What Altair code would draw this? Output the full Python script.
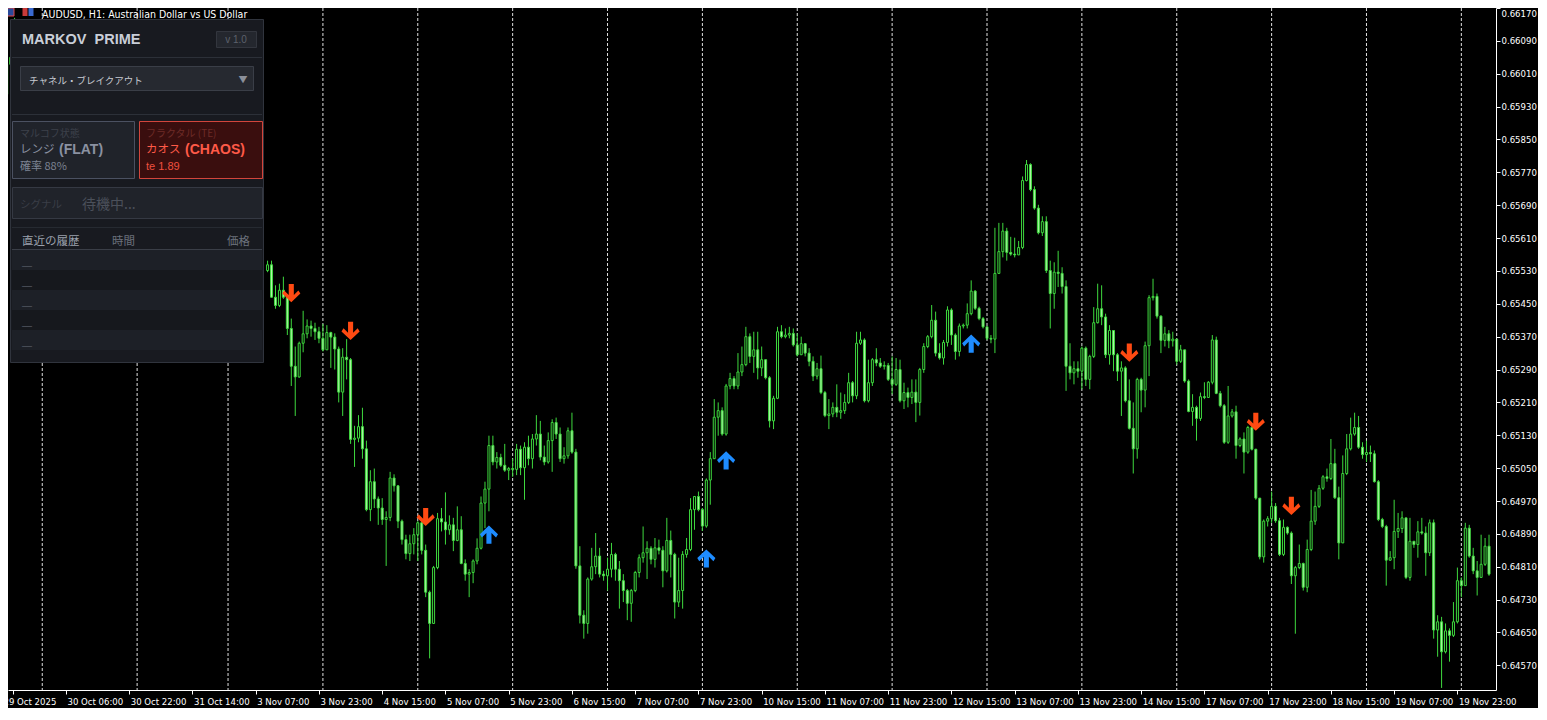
import altair as alt
import pandas as pd

# ---------------- price data (points, 1e-5) ----------------
left_idx = [0, 1, 2]
left_open = [65960, 66033, 66052]
left_high = [66050, 66057, 66146]
left_low = [65955, 66009, 66045]
left_close = [66033, 66050, 66136]

seg1_start = 66
seg1_first_open = 65531
seg1_close = [
    65545, 65466, 65446, 65483, 65466, 65390, 65298, 65272, 65354, 65377,
    65396, 65390, 65382, 65366, 65338, 65380, 65369, 65340, 65235, 65320,
    65314, 65120, 65123, 65151, 65097, 64949, 65017, 64975, 64953, 64925,
    64930, 65026, 65007, 64921, 64876, 64842, 64866, 64888, 64917, 64850,
    64748, 64672, 64808, 64927, 64919, 64900, 64912, 64874, 64900, 64818,
    64792, 64796, 64824, 64855, 64965, 64999, 65105, 65065, 65076, 65057,
    65045, 65049, 65047, 65096, 65051, 65101, 65073, 65121, 65133, 65077,
    65065, 65117, 65161, 65133, 65073, 65080, 65141, 65089, 64812, 64692,
    64672, 64780, 64810, 64836, 64792, 64788, 64804, 64840, 64804, 64776,
    64752, 64721, 64752, 64796, 64832, 64844, 64855, 64828, 64856, 64850,
    64800, 64874, 64840, 64724, 64752, 64840, 64852, 64949, 64981]
seg1_high = [
    65555, 65555, 65495, 65499, 65516, 65466, 65414, 65346, 65358, 65433,
    65412, 65409, 65404, 65394, 65401, 65398, 65382, 65378, 65346, 65342,
    65364, 65318, 65153, 65179, 65197, 65117, 65045, 65049, 64981, 64977,
    64945, 65041, 65035, 65009, 64925, 64888, 64888, 64904, 64921, 64929,
    64864, 64752, 64812, 64941, 64953, 64991, 64935, 64929, 64957, 64933,
    64828, 64804, 64828, 64879, 64981, 65017, 65129, 65129, 65089, 65085,
    65109, 65053, 65073, 65109, 65105, 65113, 65129, 65133, 65179, 65165,
    65105, 65137, 65169, 65173, 65149, 65101, 65149, 65185, 65097, 64860,
    64704, 64784, 64856, 64892, 64856, 64800, 64832, 64868, 64844, 64824,
    64792, 64756, 64756, 64800, 64840, 64908, 64872, 64860, 64880, 64876,
    64860, 64929, 64898, 64844, 64832, 64848, 64880, 64977, 64981]
seg1_low = [
    65527, 65465, 65438, 65442, 65462, 65374, 65250, 65177, 65270, 65332,
    65366, 65370, 65362, 65354, 65334, 65358, 65294, 65290, 65210, 65177,
    65266, 65109, 65053, 65113, 65073, 64945, 64921, 64953, 64912, 64912,
    64812, 64921, 64993, 64904, 64864, 64828, 64824, 64840, 64824, 64840,
    64736, 64587, 64672, 64804, 64896, 64864, 64888, 64848, 64872, 64816,
    64776, 64736, 64770, 64816, 64852, 64904, 64945, 65057, 65049, 65053,
    65041, 65021, 65029, 65033, 65033, 64973, 65057, 65049, 65105, 65069,
    65057, 65061, 65041, 65121, 65065, 65061, 65073, 65085, 64805, 64672,
    64635, 64647, 64776, 64792, 64784, 64776, 64752, 64784, 64776, 64708,
    64724, 64680, 64676, 64748, 64784, 64820, 64780, 64816, 64808, 64840,
    64760, 64796, 64784, 64684, 64712, 64708, 64832, 64848, 64900]

seg2_start = 175
seg2_close = [
    64949, 64909, 65021, 65073, 65174, 65190, 65133, 65250, 65268, 65250,
    65284, 65302, 65370, 65322, 65338, 65294, 65314, 65270, 65165, 65220,
    65382, 65370, 65374, 65378, 65350, 65326, 65353, 65330, 65310, 65274,
    65292, 65234, 65178, 65182, 65198, 65186, 65190, 65210, 65258, 65226,
    65354, 65362, 65214, 65258, 65314, 65306, 65298, 65300, 65266, 65254,
    65290, 65214, 65234, 65222, 65235, 65210, 65290, 65346, 65370, 65410,
    65330, 65318, 65356, 65435, 65374, 65334, 65396, 65398, 65426, 65481,
    65439, 65414, 65394, 65366, 65364, 65524, 65577, 65627, 65575, 65571,
    65569, 65587, 65750, 65789, 65728, 65683, 65623, 65650, 65531, 65475]
seg2_high = [
    64993, 64953, 65025, 65089, 65218, 65210, 65198, 65255, 65282, 65274,
    65330, 65346, 65394, 65378, 65382, 65382, 65346, 65298, 65274, 65226,
    65394, 65398, 65390, 65394, 65390, 65378, 65370, 65354, 65342, 65322,
    65306, 65324, 65238, 65218, 65210, 65254, 65234, 65230, 65282, 65262,
    65382, 65382, 65366, 65314, 65318, 65342, 65318, 65310, 65306, 65322,
    65318, 65314, 65258, 65246, 65266, 65266, 65294, 65354, 65374, 65447,
    65431, 65354, 65362, 65444, 65439, 65378, 65402, 65402, 65451, 65507,
    65483, 65443, 65418, 65394, 65374, 65635, 65647, 65647, 65635, 65613,
    65611, 65603, 65760, 65800, 65792, 65736, 65691, 65663, 65663, 65555]
seg2_low = [
    64945, 64897, 64905, 64961, 65073, 65129, 65129, 65129, 65242, 65242,
    65242, 65274, 65298, 65306, 65282, 65266, 65274, 65266, 65149, 65145,
    65218, 65366, 65366, 65366, 65346, 65322, 65330, 65322, 65298, 65262,
    65266, 65230, 65174, 65145, 65174, 65174, 65170, 65182, 65206, 65210,
    65218, 65350, 65210, 65210, 65250, 65298, 65294, 65290, 65262, 65230,
    65250, 65210, 65194, 65198, 65206, 65162, 65178, 65282, 65342, 65366,
    65322, 65314, 65302, 65346, 65350, 65314, 65322, 65390, 65390, 65422,
    65435, 65410, 65390, 65362, 65354, 65330, 65523, 65563, 65555, 65567,
    65563, 65571, 65583, 65748, 65724, 65679, 65619, 65615, 65525, 65390]

seg3_start = 265
seg3_close = [
    65527, 65524, 65492, 65298, 65282, 65292, 65286, 65342, 65266, 65322,
    65404, 65438, 65418, 65326, 65385, 65326, 65286, 65294, 65214, 65147,
    65097, 65266, 65240, 65348, 65465, 65468, 65420, 65361, 65377, 65360,
    65364, 65310, 65338, 65262, 65188, 65198, 65171, 65224, 65222, 65259,
    65362, 65232, 65202, 65113, 65177, 65187, 65105, 65121, 65089, 65149,
    65096, 64977, 64834, 64921, 64927, 64957, 64922, 64840, 64906, 64892,
    64788, 64808, 64818, 64760, 64852, 64921, 64957, 65001, 65029, 65025,
    65061, 64978, 64868, 65037, 65097, 65133, 65149, 65101, 65083, 65088,
    65085, 65017, 64925, 64908, 64826, 64832, 64896, 64903, 64929, 64784,
    64872, 64864, 64895, 64892, 64844, 64917, 64656, 64676, 64603, 64654,
    64643, 64676, 64776, 64764, 64904, 64836, 64800, 64784, 64816, 64860, 64792]
seg3_high = [
    65551, 65579, 65539, 65507, 65354, 65310, 65310, 65346, 65346, 65326,
    65442, 65499, 65495, 65426, 65398, 65386, 65330, 65310, 65298, 65266,
    65210, 65270, 65270, 65358, 65471, 65511, 65475, 65422, 65394, 65386,
    65382, 65342, 65350, 65334, 65266, 65230, 65202, 65234, 65259, 65262,
    65374, 65370, 65238, 65206, 65250, 65194, 65202, 65125, 65137, 65153,
    65153, 65097, 64977, 64925, 64933, 64993, 64965, 64929, 64925, 64908,
    64896, 64812, 64864, 64820, 64876, 64997, 64993, 65009, 65033, 65049,
    65121, 65097, 65005, 65081, 65133, 65173, 65185, 65177, 65113, 65117,
    65105, 65093, 65021, 64929, 64912, 64848, 64973, 64941, 64945, 64925,
    64929, 64872, 64921, 64929, 64908, 64925, 64925, 64692, 64688, 64672,
    64660, 64724, 64808, 64784, 64917, 64912, 64856, 64824, 64888, 64880, 64888]
seg3_low = [
    65438, 65491, 65475, 65238, 65266, 65254, 65270, 65242, 65250, 65242,
    65318, 65402, 65398, 65318, 65302, 65286, 65262, 65177, 65210, 65144,
    65037, 65073, 65186, 65198, 65274, 65458, 65414, 65330, 65346, 65342,
    65346, 65302, 65306, 65258, 65186, 65153, 65117, 65165, 65218, 65222,
    65254, 65230, 65198, 65109, 65109, 65173, 65073, 65101, 65037, 65085,
    65093, 64973, 64828, 64820, 64908, 64917, 64917, 64836, 64836, 64888,
    64768, 64647, 64804, 64752, 64748, 64848, 64912, 64953, 64997, 65017,
    65021, 64975, 64828, 64868, 65033, 65093, 65129, 65097, 65073, 65065,
    65065, 65015, 64921, 64904, 64764, 64824, 64804, 64880, 64892, 64780,
    64776, 64856, 64832, 64888, 64788, 64836, 64635, 64591, 64515, 64599,
    64579, 64639, 64672, 64736, 64764, 64832, 64792, 64740, 64808, 64812, 64788]

# signal arrows (bar index, price in points)
sell_idx = [72, 87, 106, 284, 316, 325]
sell_price = [65476, 65384, 64931, 65331, 65163, 64958]
buy_idx = [122, 177, 182, 244]
buy_price = [64888, 64830, 65069, 65353]

# day separators (bar index of first bar of each day)
day_idx = [9, 33, 56, 80, 104, 128, 152, 176, 200, 224, 248, 272, 296, 320, 344, 368]

# time axis labels
tick_idx = [1.6, 15, 31, 47, 63, 79, 95, 111, 127, 143, 159, 175, 191, 207, 223,
            239, 255, 271, 287, 303, 319, 335, 351, 367]
tick_labels = ["29 Oct 2025", "30 Oct 06:00", "30 Oct 22:00", "31 Oct 14:00",
               "3 Nov 07:00", "3 Nov 23:00", "4 Nov 15:00", "5 Nov 07:00",
               "5 Nov 23:00", "6 Nov 15:00", "7 Nov 07:00", "7 Nov 23:00",
               "10 Nov 15:00", "11 Nov 07:00", "11 Nov 23:00", "12 Nov 15:00",
               "13 Nov 07:00", "13 Nov 23:00", "14 Nov 15:00", "17 Nov 07:00",
               "17 Nov 23:00", "18 Nov 15:00", "19 Nov 07:00", "19 Nov 23:00"]

price_ticks = [0.6457, 0.6465, 0.6473, 0.6481, 0.6489, 0.6497, 0.6505, 0.6513,
               0.6521, 0.6529, 0.6537, 0.6545, 0.6553, 0.6561, 0.6569, 0.6577,
               0.6585, 0.6593, 0.6601, 0.6609, 0.6617]

# ---------------- build tables ----------------
rows = []
for i, o, h, l, c in zip(left_idx, left_open, left_high, left_low, left_close):
    rows.append(dict(i=i, o=o / 1e5, h=h / 1e5, l=l / 1e5, c=c / 1e5))
prev = None
for start, first_open, cs, hs, ls in [
    (seg1_start, seg1_first_open, seg1_close, seg1_high, seg1_low),
    (seg2_start, None, seg2_close, seg2_high, seg2_low),
    (seg3_start, None, seg3_close, seg3_high, seg3_low),
]:
    for k, (c, h, l) in enumerate(zip(cs, hs, ls)):
        o = first_open if (k == 0 and first_open is not None) else prev
        rows.append(dict(i=start + k, o=o / 1e5, h=h / 1e5, l=l / 1e5, c=c / 1e5))
        prev = c
candles = pd.DataFrame(rows)
sells = pd.DataFrame({"i": sell_idx, "p": [p / 1e5 for p in sell_price]})
buys = pd.DataFrame({"i": buy_idx, "p": [p / 1e5 for p in buy_price]})
days = pd.DataFrame({"i": day_idx})
dummy = pd.DataFrame({"k": [0]})

# ---------------- styling ----------------
W, H = 1488, 682
GREEN = "#3ed83e"
BEAR_FILL = "#b0f4a8"
AXFONT = "DejaVu Sans Condensed, Liberation Sans, sans-serif"
PFONT = "Liberation Sans, Noto Sans CJK JP, sans-serif"
JFONT = "Noto Sans CJK JP, sans-serif"

xscale = alt.Scale(domain=[1.6, 375.5], nice=False, zero=False)
yscale = alt.Scale(domain=[0.6451, 0.6617], nice=False, zero=False)

label_expr = ("[" + ",".join("'%s'" % s for s in tick_labels) + "][indexof(["
              + ",".join(str(v) for v in tick_idx) + "], datum.value)]")

xaxis = alt.Axis(values=tick_idx, labelExpr=label_expr, labelAlign="left",
                 labelBaseline="top", labelPadding=2, tickSize=4, labelOverlap=False,
                 labelFlush=False,
                 labelOffset={"condition": {"test": "datum.value < 2", "value": -10},
                              "value": 1},
                 domainColor="#ffffff", tickColor="#ffffff",
                 labelColor="#ffffff", labelFont=AXFONT, labelFontSize=9.5, title=None,
                 grid=False)
yaxis = alt.Axis(orient="right", values=price_ticks, format=".5f", tickSize=4,
                 labelPadding=1, labelOverlap=False, labelFlush=False,
                 labelBaseline={"condition": {"test": "datum.value > 0.6616", "value": "top"},
                                "value": "middle"},
                 domainColor="#ffffff", tickColor="#ffffff", labelColor="#ffffff",
                 labelFont=AXFONT, labelFontSize=9.5, title=None, grid=False)

grid = alt.Chart(days).mark_rule(color="#e0e0e0", strokeWidth=1, strokeDash=[3, 2]).encode(
    x=alt.X("i:Q", scale=xscale, axis=None))

wicks = alt.Chart(candles).mark_rule(color=GREEN, strokeWidth=1, clip=True).encode(
    x=alt.X("i:Q", scale=xscale, axis=xaxis),
    y=alt.Y("l:Q", scale=yscale, axis=yaxis),
    y2="h:Q")

bodies = alt.Chart(candles).mark_bar(size=2, stroke=GREEN, strokeWidth=1, clip=True).encode(
    x=alt.X("i:Q", scale=xscale, axis=None),
    y=alt.Y("o:Q", scale=yscale, axis=None),
    y2="c:Q",
    fill=alt.condition("datum.c < datum.o", alt.value(BEAR_FILL), alt.value("#000000")))

DOWN = "M -0.28 -1 L 0.28 -1 L 0.28 0.2 L 0.78 -0.3 L 1 0.05 L 0 1 L -1 0.05 L -0.78 -0.3 L -0.28 0.2 Z"
UP = "M -0.28 1 L 0.28 1 L 0.28 -0.2 L 0.78 0.3 L 1 -0.05 L 0 -1 L -1 -0.05 L -0.78 0.3 L -0.28 -0.2 Z"

sell_layer = alt.Chart(sells).mark_point(shape=DOWN, filled=True, size=330, color="#ff4a12",
                                         opacity=1).encode(
    x=alt.X("i:Q", scale=xscale, axis=None), y=alt.Y("p:Q", scale=yscale, axis=None))
buy_layer = alt.Chart(buys).mark_point(shape=UP, filled=True, size=330, color="#1e8cff",
                                       opacity=1).encode(
    x=alt.X("i:Q", scale=xscale, axis=None), y=alt.Y("p:Q", scale=yscale, axis=None))


def rect(x1, y1, x2, y2, fill, stroke=None):
    if stroke:
        m = alt.Chart(dummy).mark_rect(fill=fill, stroke=stroke, strokeWidth=1)
    else:
        m = alt.Chart(dummy).mark_rect(fill=fill)
    return m.encode(x=alt.value(x1), x2=alt.value(x2), y=alt.value(y1), y2=alt.value(y2))


def hline(x1, x2, y, color):
    return alt.Chart(dummy).mark_rule(color=color, strokeWidth=1).encode(
        x=alt.value(x1), x2=alt.value(x2), y=alt.value(y))


def txt(x, y, s, size, color, weight="normal", font=PFONT, align="left", baseline="middle"):
    return alt.Chart(dummy).mark_text(text=s, fontSize=size, color=color, fontWeight=weight,
                                      font=font, align=align, baseline=baseline).encode(
        x=alt.value(x), y=alt.value(y))


panel = [
    rect(2.5, 11.5, 255.5, 354.5, "#181a20", "#30343d"),
    txt(14, 32, "MARKOV\u00a0\u00a0PRIME", 14.5, "#c9ced8", "bold"),
    rect(208.5, 23.5, 248.5, 39.5, "#24272e", "#33363e"),
    txt(228, 32, "v 1.0", 10, "#5c616b", align="center"),
    hline(4, 254, 49.5, "#2c3038"),
    rect(12.5, 58.5, 245.5, 82.5, "#262930", "#3a3e47"),
    txt(21, 73, "チャネル・ブレイクアウト", 9.5, "#c8cbd2", font=JFONT),
    txt(235, 72, "▼", 9, "#8b909a", align="center", font=JFONT),
    hline(4, 254, 106.5, "#2c3038"),
    rect(4.5, 113.5, 126.5, 170.5, "#20232a", "#4b5161"),
    txt(12, 126, "マルコフ状態", 10, "#3d414b", font=JFONT),
    txt(12, 142, "レンジ", 11.5, "#8a91a1", font=JFONT),
    txt(51, 142, "(FLAT)", 14, "#8a91a1", "bold"),
    txt(12, 159, "確率 88%", 11, "#7d8493", font=JFONT),
    rect(131.5, 113.5, 254.5, 170.5, "#3a0e0e", "#d2453c"),
    txt(138, 126, "フラクタル (TE)", 10, "#6e2b27", font=JFONT),
    txt(138, 142, "カオス", 11.5, "#ff5a48", font=JFONT),
    txt(177, 142, "(CHAOS)", 14, "#ff5a48", "bold"),
    txt(138, 159, "te 1.89", 11, "#f0503f"),
    rect(4.5, 179.5, 254.5, 210.5, "#20232a", "#353943"),
    txt(12, 197, "シグナル", 10.5, "#3a3e47", font=JFONT),
    txt(74, 197, "待機中...", 14, "#4b505a", font=JFONT),
    hline(4, 254, 219.5, "#262a31"),
    txt(14, 234, "直近の履歴", 11.5, "#9ba1ac", font=JFONT),
    txt(104, 234, "時間", 11.5, "#6b717c", font=JFONT),
    txt(219, 234, "価格", 11.5, "#6b717c", font=JFONT),
    hline(4, 254, 241.5, "#3a3e47"),
    rect(4, 242, 254, 262, "#1d2027"),
    rect(4, 262, 254, 282, "#16181d"),
    rect(4, 282, 254, 302, "#1d2027"),
    rect(4, 302, 254, 322, "#16181d"),
    rect(4, 322, 254, 342, "#1d2027"),
]
for yy in [258, 278, 298, 318, 338]:
    panel.append(txt(14, yy, "—", 10, "#50555f"))

header = [
    rect(-5, 0, 6, 8, "#2a4a9a", "#e04848"),
    rect(14.5, 0, 19.5, 8, "#c83a3a"),
    rect(20.5, 0, 25.5, 8, "#3a6ad0"),
    txt(34, 2, "AUDUSD, H1:  Australian Dollar vs US Dollar", 10.5, "#ffffff",
        font="DejaVu Sans Condensed, Liberation Sans, sans-serif", baseline="top"),
]

chart = alt.layer(grid, wicks, bodies, sell_layer, buy_layer, *panel, *header).resolve_axis(
    x="independent", y="independent"
).properties(
    width=W, height=H,
    padding={"left": 0, "top": 0, "right": 42, "bottom": 18},
    autosize=alt.AutoSizeParams(type="none"),
).configure(background="#000000").configure_view(strokeWidth=0).configure_axis(
    labelOverlap=False)

chart.save("out.html", embed_options={"renderer": "svg", "actions": False})
